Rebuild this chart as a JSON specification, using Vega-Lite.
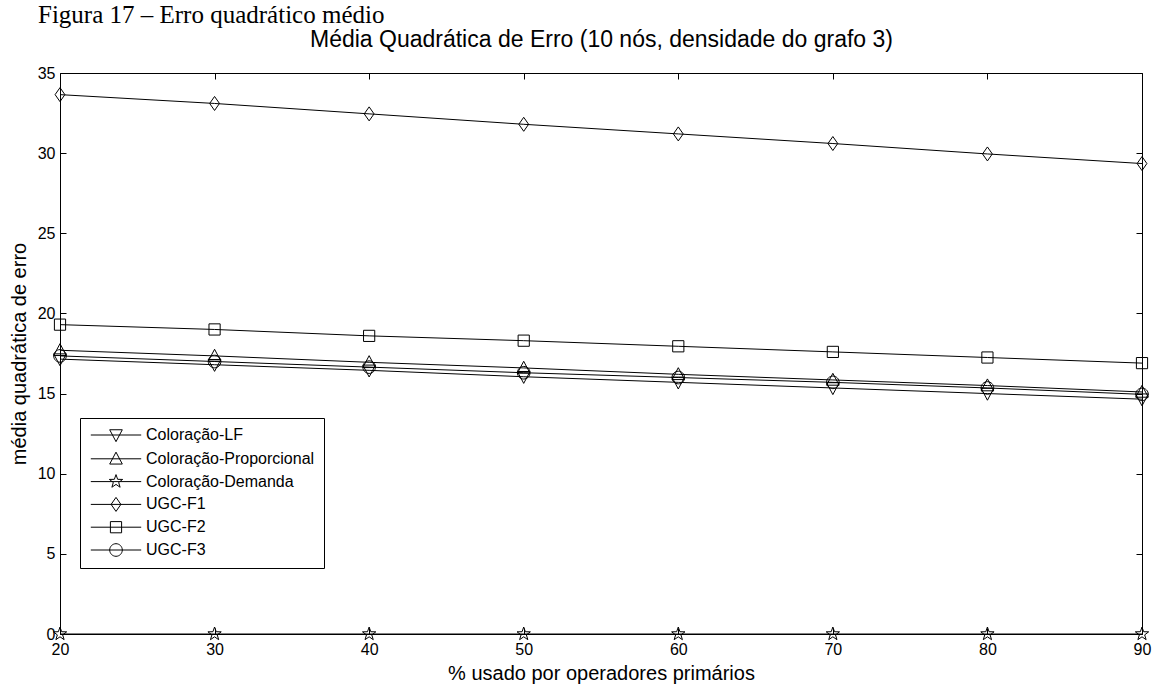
{
  "$schema": "https://vega.github.io/schema/vega-lite/v6.json",
  "width": 1082,
  "height": 561,
  "autosize": {"type": "none"},
  "padding": {"left": 60, "top": 73, "right": 18, "bottom": 50},
  "background": "white",
  "title": {"text": "Figura 17 – Erro quadrático médio", "font": "Liberation Serif", "fontSize": 25, "fontWeight": "normal", "color": "black", "anchor": "start", "frame": "group", "dx": -22, "offset": 1},
  "config": {
    "view": {"stroke": null},
    "font": "Liberation Sans",
    "axis": {"grid": false, "domainColor": "black", "domainWidth": 1, "tickColor": "black", "tickWidth": 1, "tickSize": -6, "labelColor": "black", "titleColor": "black", "labelFont": "Liberation Sans", "titleFont": "Liberation Sans", "labelFontSize": 16, "titleFontSize": 20, "titleFontWeight": "normal", "labelFlush": false}
  },
  "data": {"values": [
    {"x": 20, "y": 17.15, "s": "Coloração-LF"}, {"x": 30, "y": 16.8, "s": "Coloração-LF"}, {"x": 40, "y": 16.45, "s": "Coloração-LF"}, {"x": 50, "y": 16.05, "s": "Coloração-LF"}, {"x": 60, "y": 15.7, "s": "Coloração-LF"}, {"x": 70, "y": 15.35, "s": "Coloração-LF"}, {"x": 80, "y": 15.0, "s": "Coloração-LF"}, {"x": 90, "y": 14.65, "s": "Coloração-LF"},
    {"x": 20, "y": 17.7, "s": "Coloração-Proporcional"}, {"x": 30, "y": 17.35, "s": "Coloração-Proporcional"}, {"x": 40, "y": 16.95, "s": "Coloração-Proporcional"}, {"x": 50, "y": 16.6, "s": "Coloração-Proporcional"}, {"x": 60, "y": 16.2, "s": "Coloração-Proporcional"}, {"x": 70, "y": 15.85, "s": "Coloração-Proporcional"}, {"x": 80, "y": 15.5, "s": "Coloração-Proporcional"}, {"x": 90, "y": 15.1, "s": "Coloração-Proporcional"},
    {"x": 20, "y": 0, "s": "Coloração-Demanda"}, {"x": 30, "y": 0, "s": "Coloração-Demanda"}, {"x": 40, "y": 0, "s": "Coloração-Demanda"}, {"x": 50, "y": 0, "s": "Coloração-Demanda"}, {"x": 60, "y": 0, "s": "Coloração-Demanda"}, {"x": 70, "y": 0, "s": "Coloração-Demanda"}, {"x": 80, "y": 0, "s": "Coloração-Demanda"}, {"x": 90, "y": 0, "s": "Coloração-Demanda"},
    {"x": 20, "y": 33.65, "s": "UGC-F1"}, {"x": 30, "y": 33.1, "s": "UGC-F1"}, {"x": 40, "y": 32.45, "s": "UGC-F1"}, {"x": 50, "y": 31.8, "s": "UGC-F1"}, {"x": 60, "y": 31.2, "s": "UGC-F1"}, {"x": 70, "y": 30.6, "s": "UGC-F1"}, {"x": 80, "y": 29.95, "s": "UGC-F1"}, {"x": 90, "y": 29.35, "s": "UGC-F1"},
    {"x": 20, "y": 19.3, "s": "UGC-F2"}, {"x": 30, "y": 19.0, "s": "UGC-F2"}, {"x": 40, "y": 18.6, "s": "UGC-F2"}, {"x": 50, "y": 18.3, "s": "UGC-F2"}, {"x": 60, "y": 17.95, "s": "UGC-F2"}, {"x": 70, "y": 17.6, "s": "UGC-F2"}, {"x": 80, "y": 17.25, "s": "UGC-F2"}, {"x": 90, "y": 16.9, "s": "UGC-F2"},
    {"x": 20, "y": 17.35, "s": "UGC-F3"}, {"x": 30, "y": 17.0, "s": "UGC-F3"}, {"x": 40, "y": 16.65, "s": "UGC-F3"}, {"x": 50, "y": 16.3, "s": "UGC-F3"}, {"x": 60, "y": 16.0, "s": "UGC-F3"}, {"x": 70, "y": 15.7, "s": "UGC-F3"}, {"x": 80, "y": 15.35, "s": "UGC-F3"}, {"x": 90, "y": 14.95, "s": "UGC-F3"}
  ]},
  "resolve": {"axis": {"x": "independent", "y": "independent"}, "scale": {"shape": "independent"}, "legend": {"shape": "independent"}},
  "layer": [
    {
      "mark": {"type": "line", "color": "black", "strokeWidth": 1},
      "encoding": {
        "x": {"field": "x", "type": "quantitative", "scale": {"domain": [20, 90], "nice": false, "zero": false}, "axis": {"orient": "bottom", "values": [20, 30, 40, 50, 60, 70, 80, 90], "title": "% usado por operadores primários", "labelPadding": 13, "titlePadding": 6}},
        "y": {"field": "y", "type": "quantitative", "scale": {"domain": [0, 35], "nice": false}, "axis": {"orient": "left", "values": [0, 5, 10, 15, 20, 25, 30, 35], "title": "média quadrática de erro", "labelPadding": 11, "titlePadding": 8}},
        "detail": {"field": "s"}
      }
    },
    {
      "mark": {"type": "point", "filled": false, "color": "black", "strokeWidth": 1, "size": 196, "opacity": 1},
      "encoding": {
        "x": {"field": "x", "type": "quantitative", "axis": null},
        "y": {"field": "y", "type": "quantitative", "axis": null},
        "shape": {"field": "s", "type": "nominal", "legend": null, "scale": {
          "domain": ["Coloração-LF", "Coloração-Proporcional", "Coloração-Demanda", "UGC-F1", "UGC-F2", "UGC-F3"],
          "range": [
            "M-0.9,-0.75L0.9,-0.75L0,0.95Z",
            "M-0.9,0.75L0.9,0.75L0,-0.95Z",
            "M0,-1L0.235,-0.324L0.951,-0.309L0.38,0.124L0.588,0.809L0,0.4L-0.588,0.809L-0.38,0.124L-0.951,-0.309L-0.235,-0.324Z",
            "M0,-1L0.7,0L0,1L-0.7,0Z",
            "M-0.8,-0.8L0.8,-0.8L0.8,0.8L-0.8,0.8Z",
            "M-0.9,0A0.9,0.9,0,1,0,0.9,0A0.9,0.9,0,1,0,-0.9,0Z"
          ]}}
      }
    },
    {
      "mark": {"type": "point", "filled": false, "color": "black", "strokeWidth": 1, "size": 196, "opacity": 0},
      "encoding": {
        "x": {"field": "x", "type": "quantitative", "axis": {"orient": "top", "labels": false, "values": [20, 30, 40, 50, 60, 70, 80, 90], "title": "Média Quadrática de Erro (10 nós, densidade do grafo 3)", "titleFontSize": 23, "titlePadding": 21}},
        "y": {"field": "y", "type": "quantitative", "axis": {"orient": "right", "labels": false, "values": [0, 5, 10, 15, 20, 25, 30, 35], "title": null}},
        "shape": {"field": "s", "type": "nominal",
          "scale": {
            "domain": ["Coloração-LF", "Coloração-Proporcional", "Coloração-Demanda", "UGC-F1", "UGC-F2", "UGC-F3"],
            "range": [
              "M-3.6,0L3.6,0M-0.9,-0.75L0.9,-0.75L0,0.95Z",
              "M-3.6,0L3.6,0M-0.9,0.75L0.9,0.75L0,-0.95Z",
              "M-3.6,0L3.6,0M0,-1L0.235,-0.324L0.951,-0.309L0.38,0.124L0.588,0.809L0,0.4L-0.588,0.809L-0.38,0.124L-0.951,-0.309L-0.235,-0.324Z",
              "M-3.6,0L3.6,0M0,-1L0.7,0L0,1L-0.7,0Z",
              "M-3.6,0L3.6,0M-0.8,-0.8L0.8,-0.8L0.8,0.8L-0.8,0.8Z",
              "M-3.6,0L3.6,0M-0.9,0A0.9,0.9,0,1,0,0.9,0A0.9,0.9,0,1,0,-0.9,0Z"
            ]},
          "legend": {"title": null, "orient": "none", "legendX": 20, "legendY": 345, "padding": 9, "strokeColor": "black", "fillColor": "white", "symbolSize": 196, "symbolOffset": 19, "labelOffset": 22, "labelFontSize": 16, "labelFont": "Liberation Sans", "labelColor": "black", "rowPadding": 5.8, "labelLimit": 0, "symbolStrokeWidth": 1, "symbolStrokeColor": "black", "symbolFillColor": "transparent", "symbolOpacity": 1, "cornerRadius": 0}
        }
      }
    }
  ]
}
